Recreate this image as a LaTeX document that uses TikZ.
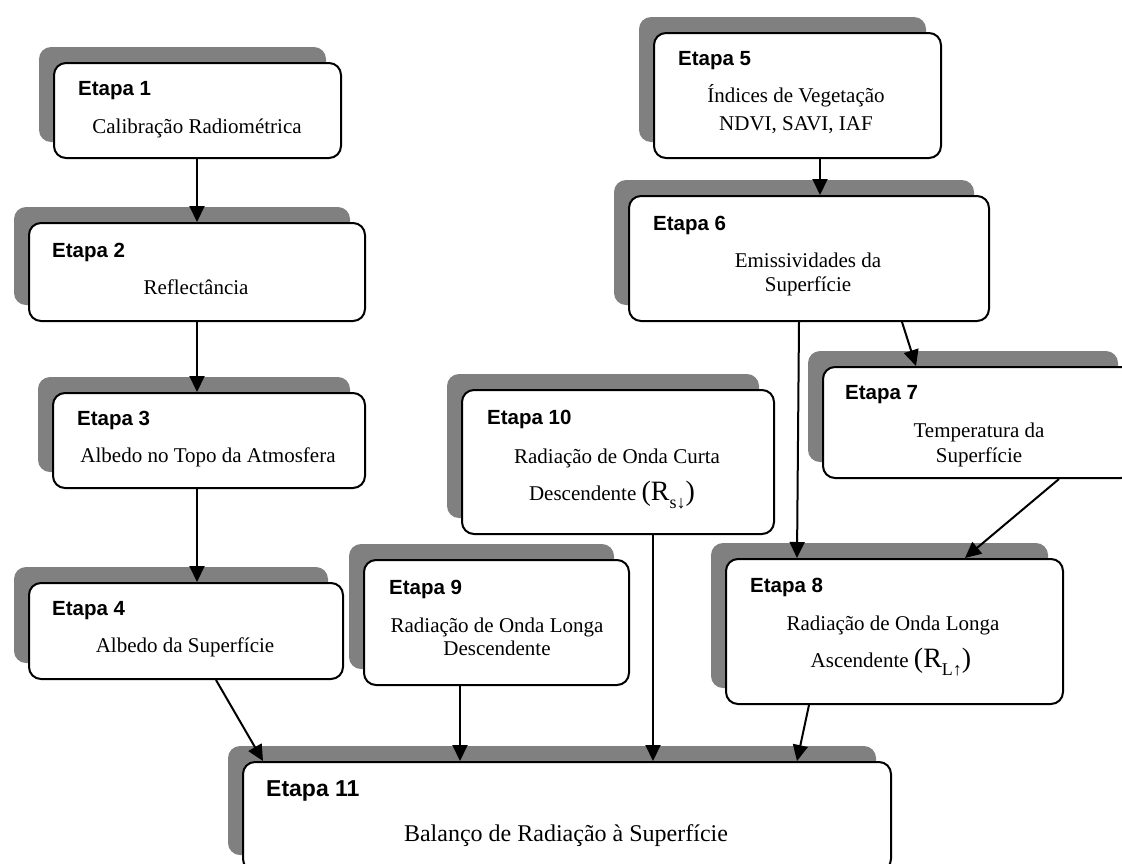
\documentclass[tikz,border=0pt]{standalone}
\usepackage{fontspec}
\setmainfont{Liberation Serif}
\newfontfamily\labelfont{Liberation Sans}
\usetikzlibrary{shadows,arrows.meta}
\definecolor{shadowgray}{HTML}{808080}
\tikzset{
  stepbox/.style={draw=black, line width=2pt, rounded corners=12pt, fill=white,
    general shadow={fill=shadowgray, shadow xshift=-15pt, shadow yshift=16pt},
    inner sep=0pt, anchor=north west},
  lab/.style={font={\labelfont\bfseries\fontsize{20.5}{24}\selectfont}, inner sep=0pt, anchor=base west},
  biglab/.style={font={\labelfont\bfseries\fontsize{23}{26}\selectfont}, inner sep=0pt, anchor=base west},
  body/.style={font={\fontsize{21}{24}\selectfont}, inner sep=0pt, anchor=base},
  bigbody/.style={font={\fontsize{24}{27}\selectfont}, inner sep=0pt, anchor=base},
  arr/.style={line width=2pt, -{Triangle[length=16pt,width=15pt]}}
}
\newcommand\mkbox[5]{\node[stepbox, minimum width={#4pt-#2pt}, minimum height={#5pt-#3pt}] (#1) at (#2,#3) {};}
\newcommand\Rsym[1]{{\fontsize{28}{28}\selectfont (R}\raisebox{-8pt}{\fontsize{18}{18}\selectfont #1}{\fontsize{28}{28}\selectfont )}}
\begin{document}
\begin{tikzpicture}[x=1pt,y=-1pt]
\useasboundingbox (0,0) rectangle (1122,863);
\clip (0,0) rectangle (1122,863);
% boxes
\mkbox{e1}{53}{62}{340}{157}
\mkbox{e2}{28}{222}{364}{320}
\mkbox{e3}{52}{392}{364}{487}
\mkbox{e4}{28}{582}{342}{678}
\mkbox{e5}{653}{32}{940}{157}
\mkbox{e6}{628}{195}{988}{320}
\mkbox{e7}{822}{366}{1132}{477}
\mkbox{e8}{725}{558}{1062}{703}
\mkbox{e9}{363}{559}{628}{684}
\mkbox{e10}{461}{389}{773}{533}
\mkbox{e11}{242}{761}{890}{870}
% labels
\node[lab] (e1l) at (78,95) {Etapa 1};
\node[body] (e1b) at (197,133) {Calibração Radiométrica};
\node[lab] (e2l) at (52,257) {Etapa 2};
\node[body] (e2b) at (196,294) {Reflectância};
\node[lab] (e3l) at (77,425) {Etapa 3};
\node[body] (e3b) at (208,462) {Albedo no Topo da Atmosfera};
\node[lab] (e4l) at (52,615) {Etapa 4};
\node[body] (e4b) at (185,652) {Albedo da Superfície};
\node[lab] (e5l) at (678,65) {Etapa 5};
\node[body] (e5b) at (796,102) {Índices de Vegetação};
\node[body] (e5c) at (796,130) {NDVI, SAVI, IAF};
\node[lab] (e6l) at (653,230) {Etapa 6};
\node[body] (e6b) at (808,267) {Emissividades da};
\node[body] (e6c) at (808,291) {Superfície};
\node[lab] (e7l) at (845,399) {Etapa 7};
\node[body] (e7b) at (979,437) {Temperatura da};
\node[body] (e7c) at (979,462) {Superfície};
\node[lab] (e8l) at (750,592) {Etapa 8};
\node[body] (e8b) at (893,630) {Radiação de Onda Longa};
\node[body] (e8c) at (891,667) {Ascendente \Rsym{L↑}};
\node[lab] (e9l) at (389,594) {Etapa 9};
\node[body] (e9b) at (497,632) {Radiação de Onda Longa};
\node[body] (e9c) at (497,655) {Descendente};
\node[lab] (e10l) at (487,424) {Etapa 10};
\node[body] (e10b) at (617,463) {Radiação de Onda Curta};
\node[body] (e10c) at (612,500) {Descendente \Rsym{s↓}};
\node[biglab] (e11l) at (266,796) {Etapa 11};
\node[bigbody] (e11b) at (566,841) {Balanço de Radiação à Superfície};
% x columns
\coordinate (x197) at (197,0);
\coordinate (x820) at (820,0);
\coordinate (x902) at (902,0);
\coordinate (x916) at (916,0);
\coordinate (x799) at (799,0);
\coordinate (x797) at (797,0);
\coordinate (x1059) at (1059,0);
\coordinate (x965) at (965,0);
\coordinate (x216) at (216,0);
\coordinate (x263) at (263,0);
\coordinate (x460) at (460,0);
\coordinate (x653) at (653,0);
\coordinate (x809) at (809,0);
% arrows
\draw[arr] (e1.south -| x197) -- (e2.north -| x197);
\draw[arr] (e2.south -| x197) -- (e3.north -| x197);
\draw[arr] (e3.south -| x197) -- (e4.north -| x197);
\draw[arr] (e5.south -| x820) -- (e6.north -| x820);
\draw[arr] (e6.south -| x902) -- (e7.north -| x916);
\draw[arr] (e6.south -| x799) -- (e8.north -| x797);
\draw[arr] (e7.south -| x1059) -- (e8.north -| x965);
\draw[arr] (e4.south -| x216) -- (e11.north -| x263);
\draw[arr] (e9.south -| x460) -- (e11.north -| x460);
\draw[arr] (e10.south -| x653) -- (e11.north -| x653);
\draw[arr] (e8.south -| x809) -- (e11.north -| x797);
\end{tikzpicture}
\end{document}
